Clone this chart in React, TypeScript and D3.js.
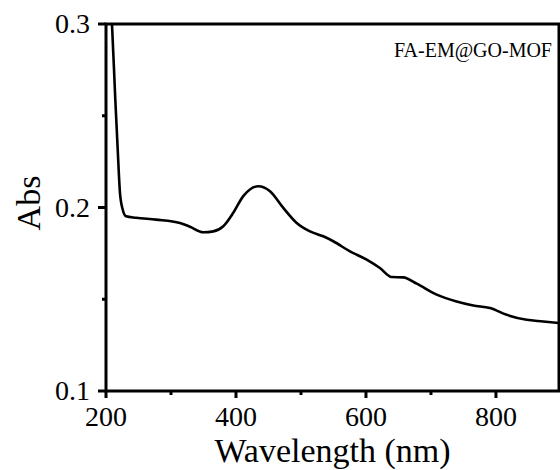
import React from "react";
import * as d3 from "d3";

const wavelength = [203, 209.2, 214.3, 218.0, 221.5, 225.7, 230.8, 246.2, 276.9, 313.8, 329.2, 349.7, 365.1, 380.5, 395.8, 411.2, 434.3, 452.3, 472.8, 493.4, 513.8, 534.3, 549.7, 575.4, 601.1, 621.5, 639.5, 657.4, 678.0, 708.8, 739.5, 765.1, 790.8, 816.5, 847.2, 872.8, 897];
const absorbance = [0.33, 0.300, 0.259, 0.2317, 0.208, 0.1989, 0.1952, 0.1944, 0.1934, 0.1916, 0.1895, 0.1865, 0.1870, 0.1898, 0.1971, 0.2062, 0.2116, 0.2089, 0.1998, 0.1916, 0.1870, 0.1843, 0.1816, 0.1761, 0.1716, 0.1670, 0.1621, 0.1619, 0.1585, 0.1525, 0.1488, 0.1466, 0.1452, 0.1415, 0.1388, 0.1379, 0.1370];
const xMajorTicks = [200, 400, 600, 800];
const xMinorTicks = [300, 500, 700];
const yMajorTicks = [0.1, 0.2, 0.3];
const yMinorTicks = [0.15, 0.25];
const legendLabel = "FA-EM@GO-MOF";
const xTitle = "Wavelength (nm)";
const yTitle = "Abs";

const W = 560, H = 470;
const L = 106, R = 559, T = 24, B = 391;
const FONT = "\"Times New Roman\", \"Liberation Serif\", \"DejaVu Serif\", serif";

export default function App() {
  const x = d3.scaleLinear().domain([200, 897]).range([L, R]);
  const y = d3.scaleLinear().domain([0.1, 0.3]).range([B, T]);
  const pts = wavelength.map((w, i) => [w, absorbance[i]] as [number, number]);
  const line = d3.line<[number, number]>().x(d => x(d[0])).y(d => y(d[1])).curve(d3.curveMonotoneX);
  const ts = (size: number): React.CSSProperties => ({ fontFamily: FONT, fontSize: size + "px" });
  return (
    <svg width={W} height={H} style={{ position: "absolute", left: 0, top: 0, background: "#fff" }}>
      <defs>
        <clipPath id="plotclip"><rect x={L} y={T} width={R - L} height={B - T} /></clipPath>
      </defs>
      <path d={line(pts) || ""} fill="none" stroke="#000" strokeWidth={2.6} clipPath="url(#plotclip)" strokeLinejoin="round" />
      <rect x={L} y={T} width={R - L} height={B - T} fill="none" stroke="#000" strokeWidth={3} />
      {xMajorTicks.map(t => (
        <g key={"xm" + t}>
          <line x1={x(t)} x2={x(t)} y1={B} y2={B + 7} stroke="#000" strokeWidth={3} />
          <text x={x(t)} y={426} textAnchor="middle" style={ts(28)}>{t}</text>
        </g>
      ))}
      {xMinorTicks.map(t => (
        <line key={"xn" + t} x1={x(t)} x2={x(t)} y1={B} y2={B + 4} stroke="#000" strokeWidth={3} />
      ))}
      {yMajorTicks.map(t => (
        <g key={"ym" + t}>
          <line x1={L - 8} x2={L} y1={y(t)} y2={y(t)} stroke="#000" strokeWidth={3} />
          <text x={90} y={y(t) + 9} textAnchor="end" style={ts(28)}>{t.toFixed(1)}</text>
        </g>
      ))}
      {yMinorTicks.map(t => (
        <line key={"yn" + t} x1={L - 4} x2={L} y1={y(t)} y2={y(t)} stroke="#000" strokeWidth={3} />
      ))}
      <text x={(L + R) / 2} y={462} textAnchor="middle" style={ts(34)}>{xTitle}</text>
      <text transform={`translate(40, 203) rotate(-90)`} textAnchor="middle" style={ts(34)}>{yTitle}</text>
      <text x={552} y={57} textAnchor="end" style={ts(20)}>{legendLabel}</text>
    </svg>
  );
}
